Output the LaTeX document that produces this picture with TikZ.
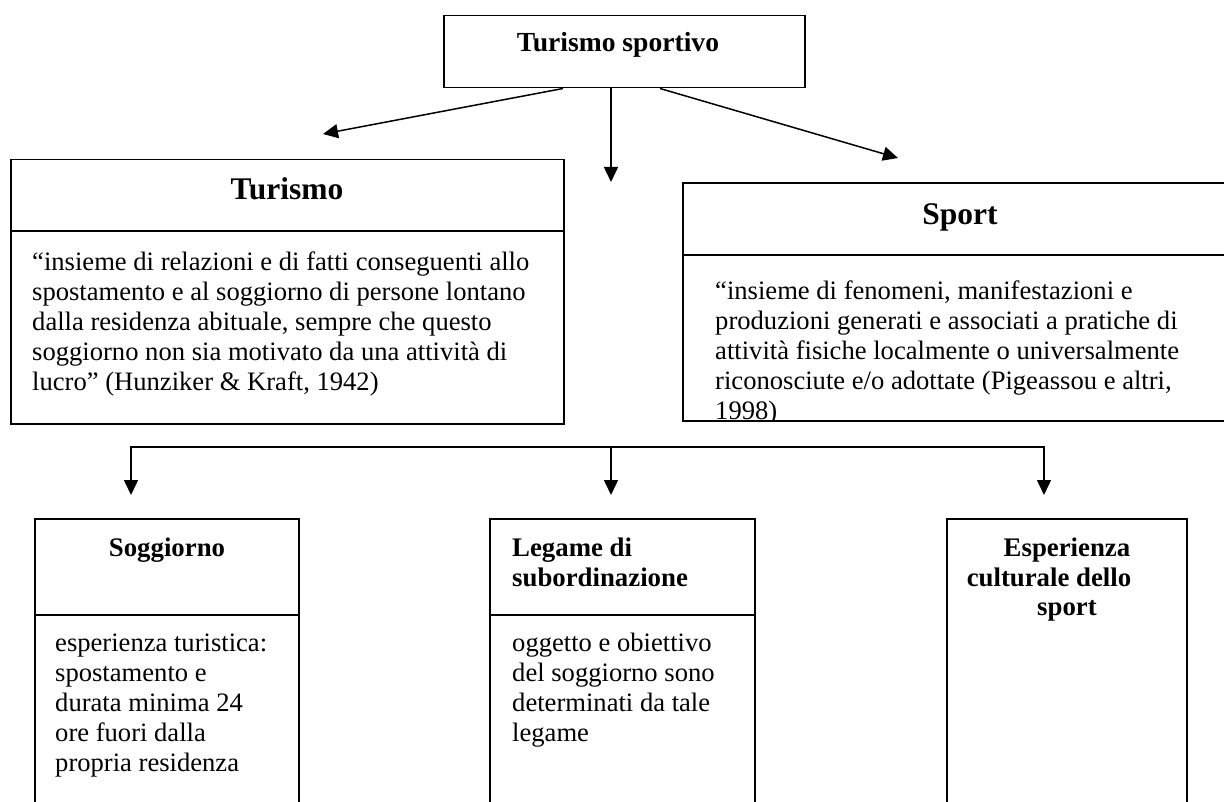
\documentclass[tikz,border=0pt]{standalone}
\usepackage{fontspec}
\setmainfont{Liberation Serif}
\usetikzlibrary{arrows.meta}
\tikzset{
  boxline/.style={line width=1.5pt},
  box/.style={draw, rectangle, line width=1.5pt, inner sep=0pt},
  conn/.style={line width=1.5pt, -{Triangle[length=15pt,width=14pt]}},
  plain/.style={line width=1.5pt},
  bodytxt/.style={font=\fontsize{26.6}{30}\selectfont, align=left, inner sep=0pt, anchor=north west},
  headtxt/.style={font=\fontsize{31.5}{36}\selectfont\bfseries, inner sep=0pt, anchor=base},
  subhead/.style={font=\fontsize{26.8}{30}\selectfont\bfseries, inner sep=0pt, anchor=base},
  subheadL/.style={font=\fontsize{26.8}{30}\selectfont\bfseries, inner sep=0pt, anchor=base west},
}
\begin{document}
\begin{tikzpicture}[x=1pt,y=-1pt]
\useasboundingbox (0,0) rectangle (1224,802);

% top box
\node[box, minimum width=361pt, minimum height=72pt, anchor=north west] (top) at (443,15) {};
\node[font=\fontsize{27.6}{32}\selectfont\bfseries, inner sep=0pt, anchor=base] (toptxt) at (618,52) {Turismo sportivo};

% arrow end points
\coordinate (tipL) at (323,134);
\coordinate (tipC) at (611,182);
\coordinate (tipR) at (898,158);
\draw[conn] ([xshift=120pt]top.south west) -- (tipL);
\draw[conn] ([xshift=168pt]top.south west) -- (tipC);
\draw[conn] ([xshift=217pt]top.south west) -- (tipR);

% Turismo box
\node[box, minimum width=553pt, minimum height=264pt, anchor=north west] (tur) at (10,159) {};
\draw[boxline] (10,231) -- (563,231);
\node[headtxt] (turh) at (287,200) {Turismo};
\node[bodytxt] (turb) at (32,249) {\strut “insieme di relazioni e di fatti conseguenti allo\\
spostamento e al soggiorno di persone lontano\\
dalla residenza abituale, sempre che questo\\
soggiorno non sia motivato da una attività di\\
lucro” (Hunziker \& Kraft, 1942)};

% Sport box (runs past the right edge)
\draw[boxline] (1224,183) -- (683,183) -- (683,421) -- (1224,421);
\draw[boxline] (683,255) -- (1224,255);
\node[headtxt] (spoh) at (960,225) {Sport};
\begin{scope}
\clip (684,256) rectangle (1224,419);
\node[bodytxt] (spob) at (715,278) {\strut “insieme di fenomeni, manifestazioni e\\
produzioni generati e associati a pratiche di\\
attività fisiche localmente o universalmente\\
riconosciute e/o adottate (Pigeassou e altri,\\
1998)};
\end{scope}

% bracket with three arrows
\coordinate (hL) at (131,447);
\coordinate (hM) at (611,447);
\coordinate (hR) at (1044,447);
\coordinate (a1) at (131,495);
\coordinate (a2) at (611,495);
\coordinate (a3) at (1044,495);
\draw[conn] (hM) -- (hL) -- (a1);
\draw[conn] (hM) -- (a2);
\draw[conn] (hM) -- (hR) -- (a3);

% Soggiorno box
\draw[boxline] (35,802) -- (35,519) -- (299,519) -- (299,802);
\draw[boxline] (35,615) -- (299,615);
\node[subhead] (sogh) at (167,556) {Soggiorno};
\node[bodytxt] (sogb) at (55,630) {\strut esperienza turistica:\\
spostamento e\\
durata minima 24\\
ore fuori dalla\\
propria residenza};

% Legame box
\draw[boxline] (490,802) -- (490,519) -- (755,519) -- (755,802);
\draw[boxline] (490,615) -- (755,615);
\node[subheadL] (legh1) at (512,556) {Legame di};
\node[subheadL] (legh2) at (512,586) {subordinazione};
\node[bodytxt] (legb) at (512,630) {\strut oggetto e obiettivo\\
del soggiorno sono\\
determinati da tale\\
legame};

% Esperienza box
\draw[boxline] (947,802) -- (947,519) -- (1187,519) -- (1187,802);
\node[subhead] (esph1) at (1067,556) {Esperienza};
\node[subhead] (esph2) at (1049,586) {culturale dello};
\node[subhead] (esph3) at (1067,615) {sport};
\end{tikzpicture}
\end{document}
